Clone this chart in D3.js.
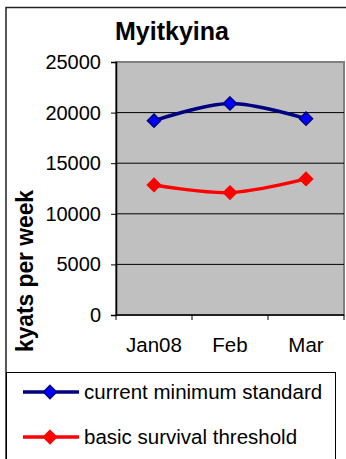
<!DOCTYPE html>
<html>
<head>
<meta charset="utf-8">
<script src="https://cdn.jsdelivr.net/npm/d3@7"></script>
<style>
  body { margin: 0; background: #fff; }
  text { font-family: "Liberation Sans", Arial, sans-serif; fill: #000; }
</style>
</head>
<body>
<svg id="chart"></svg>
<script>
var width = 346,
    height = 459;

// data
var months = ["Jan08", "Feb", "Mar"];
var minimumStandard = [19200, 20900, 19400];
var survivalThreshold = [12850, 12100, 13450];
var yTicks = [0, 5000, 10000, 15000, 20000, 25000];
var seriesNames = ["current minimum standard", "basic survival threshold"];

var series = [
  {name: seriesNames[0], values: minimumStandard, line: "#000080", fill: "#0000ff", stroke: "#000080"},
  {name: seriesNames[1], values: survivalThreshold, line: "#ff0000", fill: "#ff0000", stroke: "#ff0000"}
];

var plot = {left: 116, right: 344, top: 62, bottom: 315};

var svg = d3.select("#chart")
    .attr("width", width)
    .attr("height", height);

// outer chart frame
svg.append("rect")
    .attr("x", 6).attr("y", 7.5)
    .attr("width", 400).attr("height", 500)
    .attr("fill", "#fff")
    .attr("stroke", "#222")
    .attr("stroke-width", 1.5);

// scales
var x = d3.scaleBand()
    .domain(months)
    .range([plot.left, plot.right]);

var y = d3.scaleLinear()
    .domain([0, 25000])
    .range([plot.bottom, plot.top]);

// plot area
svg.append("rect")
    .attr("x", plot.left).attr("y", plot.top)
    .attr("width", plot.right - plot.left)
    .attr("height", plot.bottom - plot.top)
    .attr("fill", "#c0c0c0")
    .attr("stroke", "#808080")
    .attr("stroke-width", 2);

// gridlines
svg.append("g")
  .selectAll("line")
  .data(yTicks.filter(d => d > 0 && d < 25000))
  .enter().append("line")
    .attr("x1", plot.left).attr("x2", plot.right)
    .attr("y1", d => y(d)).attr("y2", d => y(d))
    .attr("stroke", "#000")
    .attr("stroke-width", 1);

// Y axis
var yAxis = d3.axisLeft(y)
    .tickValues(yTicks)
    .tickFormat(d3.format("d"))
    .tickSize(5)
    .tickPadding(10);

var gy = svg.append("g")
    .attr("transform", `translate(${plot.left}, 0)`)
    .call(yAxis);
gy.select(".domain").attr("stroke", "#000").attr("stroke-width", 1.5);
gy.selectAll("text")
    .attr("font-size", 20)
    .attr("font-family", "Liberation Sans, Arial, sans-serif")
    .attr("fill", "#000");

// X axis (ticks at band edges)
var gx = svg.append("g")
    .attr("transform", `translate(0, ${plot.bottom})`);
gx.append("line")
    .attr("x1", plot.left).attr("x2", plot.right)
    .attr("stroke", "#000").attr("stroke-width", 1.5);
gx.selectAll(".tick")
  .data(months.concat([null]))
  .enter().append("line")
    .attr("x1", (d, i) => plot.left + i * x.bandwidth())
    .attr("x2", (d, i) => plot.left + i * x.bandwidth())
    .attr("y1", 0).attr("y2", 5)
    .attr("stroke", "#000");
gx.selectAll("text")
  .data(months)
  .enter().append("text")
    .attr("x", d => x(d) + x.bandwidth() / 2)
    .attr("y", 37)
    .attr("text-anchor", "middle")
    .attr("font-size", 20.5)
    .text(d => d);

// lines
var line = d3.line()
    .x((d, i) => x(months[i]) + x.bandwidth() / 2)
    .y(d => y(d))
    .curve(d3.curveCatmullRom.alpha(0.5));

var diamond = d3.symbol().type(d3.symbolDiamond2).size(110);

series.forEach(function(s) {
  svg.append("path")
      .attr("d", line(s.values))
      .attr("fill", "none")
      .attr("stroke", s.line)
      .attr("stroke-width", 3.5);
  svg.append("g")
    .selectAll("path")
    .data(s.values)
    .enter().append("path")
      .attr("transform", (d, i) => `translate(${x(months[i]) + x.bandwidth() / 2}, ${y(d)})`)
      .attr("d", diamond)
      .attr("fill", s.fill)
      .attr("stroke", s.stroke)
      .attr("stroke-width", 1.5);
});

// title
svg.append("text")
    .attr("x", 172).attr("y", 40)
    .attr("text-anchor", "middle")
    .attr("font-size", 25)
    .attr("font-weight", "bold")
    .text("Myitkyina");

// y axis title
svg.append("text")
    .attr("transform", "translate(33, 271) rotate(-90)")
    .attr("text-anchor", "middle")
    .attr("font-size", 23)
    .attr("font-weight", "bold")
    .attr("textLength", 162)
    .attr("lengthAdjust", "spacingAndGlyphs")
    .text("kyats per week");

// legend
var legend = svg.append("g");
legend.append("rect")
    .attr("x", 6.5).attr("y", 372.5)
    .attr("width", 329).attr("height", 200)
    .attr("fill", "#fff")
    .attr("stroke", "#000")
    .attr("stroke-width", 1);

var item = legend.selectAll(".item")
    .data(series)
  .enter().append("g")
    .attr("transform", (d, i) => `translate(0, ${392 + i * 45})`);
item.append("line")
    .attr("x1", 23).attr("x2", 79)
    .attr("stroke", d => d.line)
    .attr("stroke-width", 3.5);
item.append("path")
    .attr("transform", "translate(50, 0)")
    .attr("d", diamond)
    .attr("fill", d => d.fill)
    .attr("stroke", d => d.stroke)
    .attr("stroke-width", 1.5);
item.append("text")
    .attr("x", 84).attr("y", 7)
    .attr("font-size", 20.5)
    .text(d => d.name);
</script>
</body>
</html>
